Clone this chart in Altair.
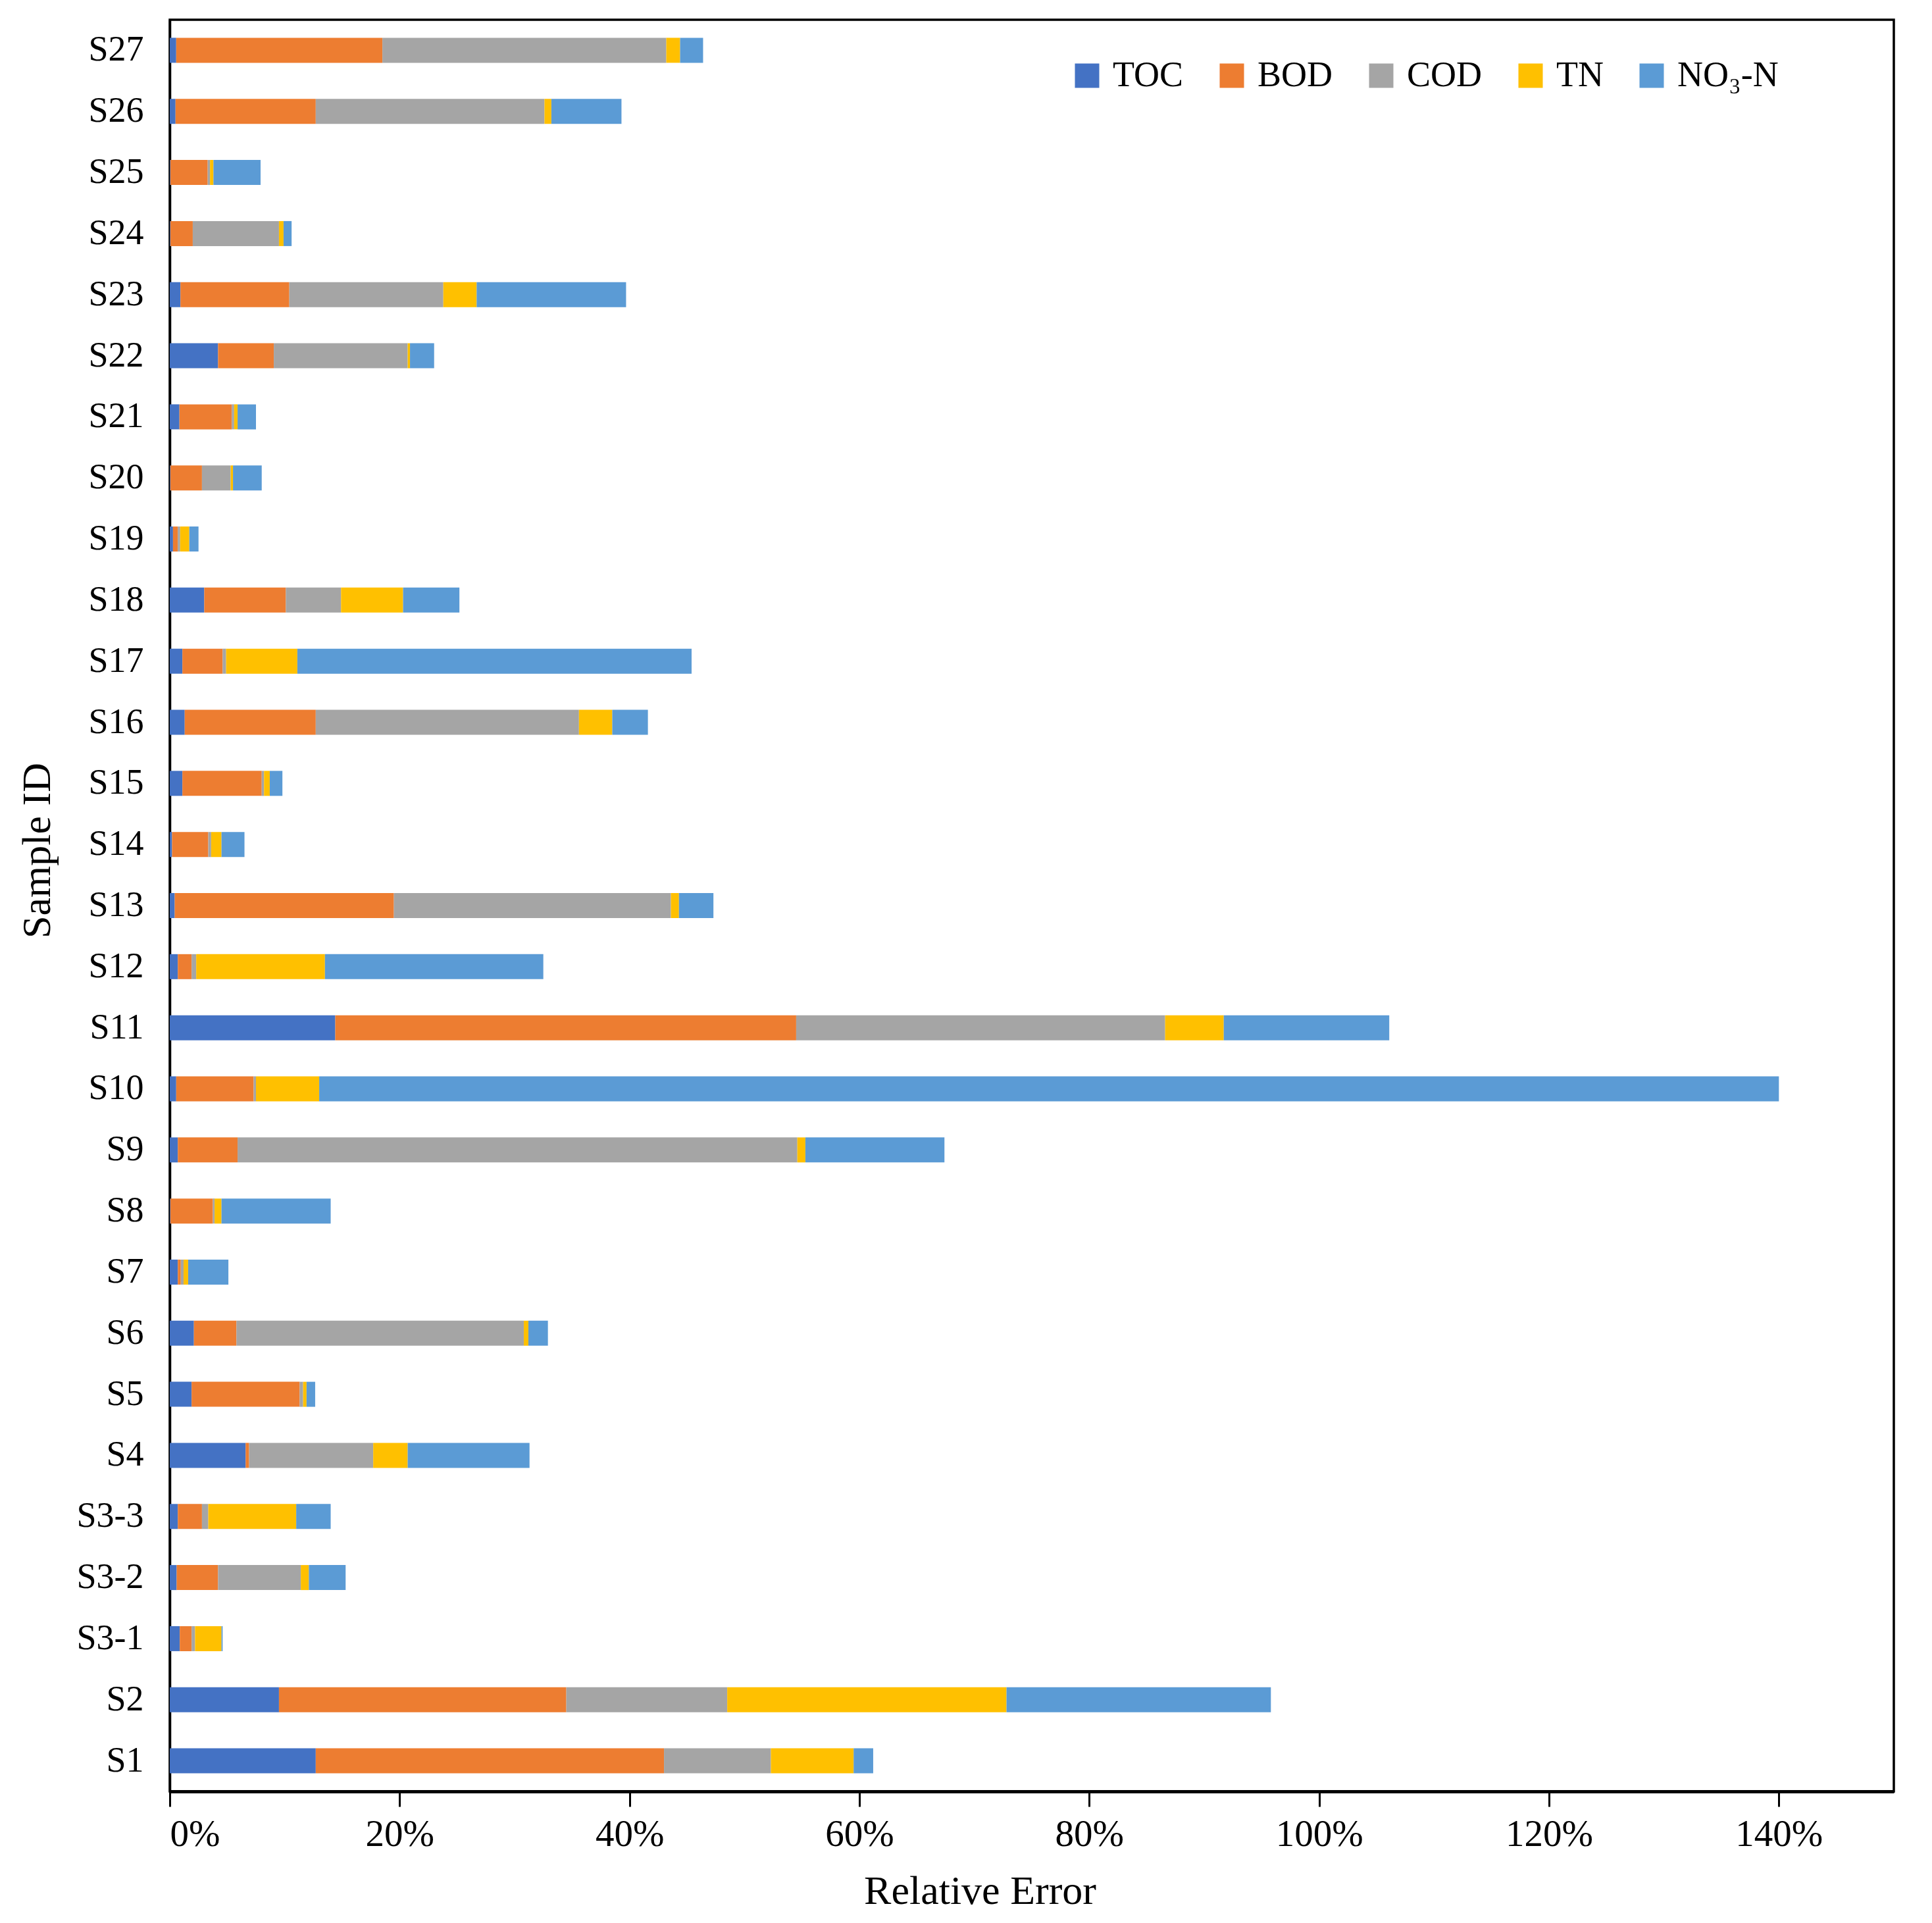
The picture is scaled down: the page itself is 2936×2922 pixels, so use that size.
import altair as alt
import pandas as pd

samples = ["S1", "S2", "S3-1", "S3-2", "S3-3", "S4", "S5", "S6", "S7", "S8", "S9",
           "S10", "S11", "S12", "S13", "S14", "S15", "S16", "S17", "S18", "S19",
           "S20", "S21", "S22", "S23", "S24", "S25", "S26", "S27"]

series = ["TOC", "BOD", "COD", "TN", "NO₃-N"]
colors = ["#4472C4", "#ED7D31", "#A5A5A5", "#FFC000", "#5B9BD5"]

# relative error (%) of each parameter, stacked segments
toc = [12.7, 9.5, 0.87, 0.6, 0.7, 6.6, 1.9, 2.1, 0.7, 0.05, 0.7,
       0.56, 14.4, 0.7, 0.43, 0.2, 1.1, 1.3, 1.1, 3.0, 0.28,
       0.05, 0.84, 4.2, 0.93, 0.05, 0.05, 0.5, 0.56]
bod = [30.3, 25.0, 1.03, 3.6, 2.1, 0.3, 9.4, 3.7, 0.26, 3.7, 5.2,
       6.74, 40.1, 1.2, 19.07, 3.15, 6.9, 11.4, 3.5, 7.1, 0.42,
       2.75, 4.56, 4.85, 9.47, 1.95, 3.25, 12.2, 17.94]
cod = [9.3, 14.0, 0.3, 7.2, 0.55, 10.8, 0.3, 25.0, 0.24, 0.15, 48.7,
       0.2, 32.1, 0.4, 24.1, 0.25, 0.2, 22.9, 0.3, 4.8, 0.2,
       2.5, 0.2, 11.65, 13.4, 7.5, 0.2, 19.9, 24.7]
tn = [7.2, 24.3, 2.3, 0.7, 7.65, 3.0, 0.3, 0.4, 0.4, 0.6, 0.7,
      5.5, 5.1, 11.2, 0.7, 0.9, 0.5, 2.9, 6.2, 5.4, 0.8,
      0.2, 0.3, 0.2, 2.9, 0.4, 0.3, 0.6, 1.2]
no3 = [1.7, 23.0, 0.1, 3.2, 3.0, 10.6, 0.75, 1.7, 3.5, 9.5, 12.1,
       127.0, 14.4, 19.0, 3.0, 2.0, 1.1, 3.1, 34.3, 4.9, 0.8,
       2.5, 1.6, 2.1, 13.0, 0.7, 4.1, 6.1, 2.0]

x_ticks = [0, 20, 40, 60, 80, 100, 120, 140]

rows = []
for k, (name, vals) in enumerate(zip(series, [toc, bod, cod, tn, no3])):
    for s, v in zip(samples, vals):
        rows.append({"Sample": s, "Param": name, "Value": v, "ord": k})
df = pd.DataFrame(rows)

FONT = "Liberation Serif"

chart = alt.Chart(df).mark_bar(size=38).encode(
    y=alt.Y("Sample:N", sort=list(reversed(samples)),
            axis=alt.Axis(title="Sample ID", ticks=False, tickSize=0,
                          labelPadding=40, labelFontSize=54, labelFont=FONT,
                          labelColor="black", domainColor="black", domainWidth=3.5,
                          titleFont=FONT, titleFontSize=62, titleFontWeight="normal",
                          titleColor="black", titleAngle=270, titleX=-183, titleY=1262,
                          titleAlign="center", titleBaseline="alphabetic", grid=False)),
    x=alt.X("Value:Q", stack="zero",
            scale=alt.Scale(domain=[0, 150], nice=False, zero=True),
            axis=alt.Axis(title="Relative Error", values=x_ticks,
                          labelExpr="datum.value + '%'",
                          tickSize=23, tickWidth=3, tickColor="black",
                          labelPadding=14, labelFontSize=57, labelFont=FONT,
                          labelColor="black", domainColor="black", domainWidth=5,
                          titleFont=FONT, titleFontSize=62, titleFontWeight="normal",
                          titleColor="black", titleX=1231, titleY=170,
                          titleAlign="center", titleBaseline="alphabetic", grid=False)),
    color=alt.Color("Param:N",
                    scale=alt.Scale(domain=series, range=colors),
                    legend=alt.Legend(title=None, orient="none", direction="horizontal",
                                      legendX=1367, legendY=58, padding=0,
                                      symbolType="square", symbolSize=1369,
                                      symbolStrokeWidth=0, symbolOpacity=1,
                                      labelFont=FONT, labelFontSize=54, labelColor="black",
                                      labelOffset=12, columnPadding=46, columns=5,
                                      labelLimit=400)),
    order=alt.Order("ord:Q", sort="ascending"),
).properties(
    width=2620,
    height=2692,
    autosize=alt.AutoSizeParams(type="none"),
    padding={"left": 250, "top": 22, "right": 50, "bottom": 192},
    background="white",
).configure_view(
    stroke="black", strokeWidth=3.5
)

chart.save("out.html", embed_options={"renderer": "svg", "actions": False})
